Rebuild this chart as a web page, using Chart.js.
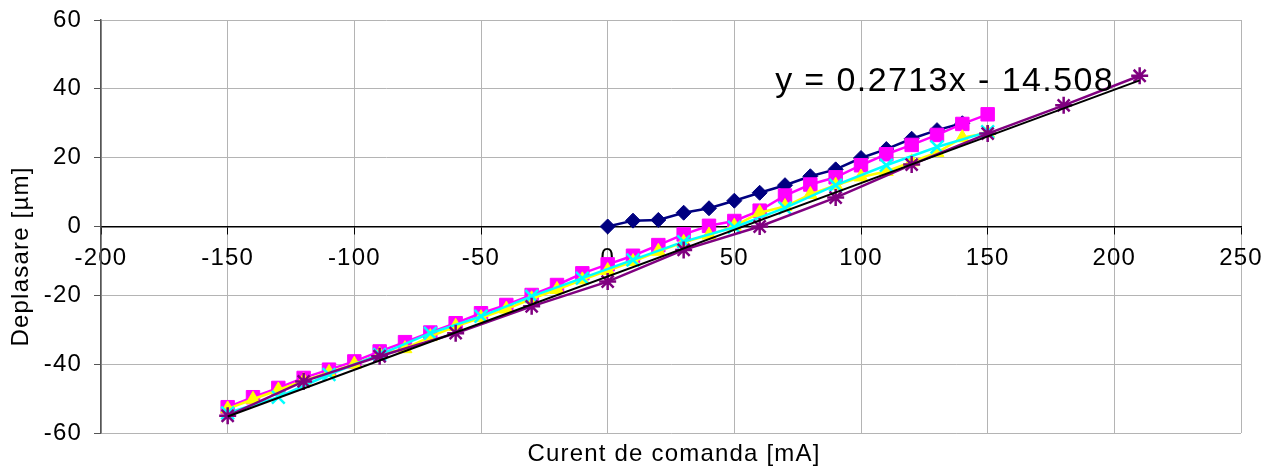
<!DOCTYPE html>
<html>
<head>
<meta charset="utf-8">
<script src="https://cdn.jsdelivr.net/npm/chart.js@4.4.1/dist/chart.umd.min.js"></script>
<style>
  body { margin: 0; background: #fff; }
  #wrap { width: 1278px; height: 471px; }
</style>
</head>
<body>
<div id="wrap"><canvas id="deplasareChart" width="1278" height="471"></canvas></div>
<script>
// Measured series: current [mA] vs displacement [µm]
const xNavy = [0, 10, 20, 30, 40, 50, 60, 70, 80, 90, 100, 110, 120, 130, 140];
const yNavy = [0, 1.7, 1.9, 4.0, 5.3, 7.5, 9.8, 12.0, 14.6, 16.6, 19.9, 22.5, 25.5, 28.0, 30.0];

const xMagenta = [-150, -140, -130, -120, -110, -100, -90, -80, -70, -60, -50, -40, -30, -20, -10, 0,
                  10, 20, 30, 40, 50, 60, 70, 80, 90, 100, 110, 120, 130, 140, 150];
const yMagenta = [-52.5, -49.6, -46.9, -44.0, -41.6, -39.2, -36.3, -33.6, -30.8, -28.1, -25.2, -22.8, -19.9, -17.0, -13.6, -11.0,
                  -8.5, -5.4, -2.3, 0.2, 1.6, 4.6, 9.0, 12.2, 14.3, 17.8, 21.0, 23.7, 26.6, 29.8, 32.6];

const xYellow = xMagenta;
const yYellow = [-53.0, -50.2, -47.5, -44.8, -42.4, -40.0, -37.2, -35.5, -32.0, -29.0, -26.5, -24.0, -21.0, -18.3, -15.5, -12.8,
                 -10.2, -7.2, -4.6, -2.5, 0.1, 4.0, 5.8, 9.3, 12.0, 14.4, 16.0, 18.8, 21.5, 25.8, 27.2];

const xCyan = [-150, -130, -110, -90, -70, -50, -30, -10, 10, 30, 50, 70, 90, 110, 130, 150];
const yCyan = [-54.2, -49.6, -43.0, -37.2, -31.0, -26.1, -20.3, -15.0, -9.7, -4.4, -0.2, 5.4, 12.0, 17.8, 23.1, 27.5];

const xPurple = [-150, -120, -90, -60, -30, 0, 30, 60, 90, 120, 150, 180, 210];
const yPurple = [-55.0, -45.0, -37.7, -31.0, -23.2, -16.0, -6.8, 0.0, 8.4, 18.0, 27.0, 35.2, 43.8];

// linear fit of the purple series
const trendSlope = 0.2713;
const trendIntercept = -14.508;
const trendRange = [-150, 210];
const trendLabel = 'y = 0.2713x - 14.508';
const trendLabelAt = [133, 42.2];

const xTicks = { min: -200, max: 250, step: 50 };
const yTicks = { min: -60, max: 60, step: 20 };
const xTitle = 'Curent de comanda [mA]';
const yTitle = 'Deplasare [µm]';

const FONT = "'Liberation Sans', Arial, sans-serif";
const SPACING = '1.2px';

const pts = (xs, ys) => xs.map((x, i) => ({ x: x, y: ys[i] }));

function series(label, xs, ys, color, style, radius, order) {
    const open = style === 'crossRot' || style === 'star';
    return {
        label: label,
        data: pts(xs, ys),
        showLine: true,
        borderColor: color,
        borderWidth: 2.5,
        pointStyle: style,
        pointRadius: radius,
        pointBackgroundColor: open ? 'transparent' : color,
        pointBorderColor: color,
        pointBorderWidth: open ? 2.5 : 1,
        order: order
    };
}

// Slightly wider glyph spacing for every text drawn on the canvas
const spacing = {
    id: 'spacing',
    beforeUpdate(chart) { chart.ctx.letterSpacing = SPACING; },
    beforeLayout(chart) { chart.ctx.letterSpacing = SPACING; },
    beforeDraw(chart) { chart.ctx.letterSpacing = SPACING; }
};

// Axis titles and the fit equation
const annotations = {
    id: 'annotations',
    afterDraw(chart) {
        const ctx = chart.ctx;
        const area = chart.chartArea;
        ctx.save();
        ctx.fillStyle = '#000';
        ctx.textAlign = 'center';
        ctx.textBaseline = 'middle';
        ctx.letterSpacing = SPACING;
        ctx.font = '24px ' + FONT;
        ctx.fillText(xTitle, (area.left + area.right) / 2 + 3, area.bottom + 21);

        ctx.save();
        ctx.translate(21, (area.top + area.bottom) / 2 + 30);
        ctx.rotate(-Math.PI / 2);
        ctx.fillText(yTitle, 0, 0);
        ctx.restore();

        ctx.letterSpacing = '1.4px';
        ctx.font = '34px ' + FONT;
        const lx = chart.scales.x.getPixelForValue(trendLabelAt[0]);
        const ly = chart.scales.y.getPixelForValue(trendLabelAt[1]);
        ctx.fillText(trendLabel, lx, ly);
        ctx.restore();
    }
};

const trendData = trendRange.map(x => ({ x: x, y: trendSlope * x + trendIntercept }));

new Chart(document.getElementById('deplasareChart'), {
    type: 'scatter',
    data: {
        datasets: [
            series('Serie 1', xNavy, yNavy, '#000080', 'rectRot', 7.5, 6),
            series('Serie 2', xMagenta, yMagenta, '#FF00FF', 'rect', 9.5, 5),
            series('Serie 3', xYellow, yYellow, '#FFFF00', 'triangle', 8, 4),
            series('Serie 4', xCyan, yCyan, '#00FFFF', 'crossRot', 9, 3),
            series('Serie 5', xPurple, yPurple, '#800080', 'star', 8.5, 2),
            {
                label: 'Linear',
                data: trendData,
                showLine: true,
                borderColor: '#000000',
                borderWidth: 2,
                pointRadius: 0,
                order: 1
            }
        ]
    },
    options: {
        responsive: false,
        animation: false,
        layout: { padding: { top: 20, right: 37, bottom: 38, left: 0 } },
        plugins: {
            legend: { display: false },
            tooltip: { enabled: false }
        },
        scales: {
            x: {
                type: 'linear',
                position: { y: 0 },
                min: xTicks.min,
                max: xTicks.max,
                afterFit(scale) { scale.paddingLeft = 0; scale.paddingRight = 0; },
                ticks: {
                    stepSize: xTicks.step,
                    color: '#000',
                    font: { family: FONT, size: 24 },
                    padding: 10,
                    maxRotation: 0,
                    autoSkip: false
                },
                grid: { color: '#b4b4b4', tickColor: '#000', tickLength: 7 },
                border: { color: '#000', width: 1.5 }
            },
            y: {
                type: 'linear',
                position: 'left',
                min: yTicks.min,
                max: yTicks.max,
                afterFit(scale) {
                    scale.width = 101;
                    scale.paddingTop = 0;
                    scale.paddingBottom = 0;
                },
                ticks: {
                    stepSize: yTicks.step,
                    color: '#000',
                    font: { family: FONT, size: 24 },
                    padding: 12
                },
                grid: { color: '#b4b4b4', tickColor: '#555', tickLength: 7 },
                border: { color: '#555', width: 1.5 }
            }
        }
    },
    plugins: [spacing, annotations]
});
</script>
</body>
</html>
